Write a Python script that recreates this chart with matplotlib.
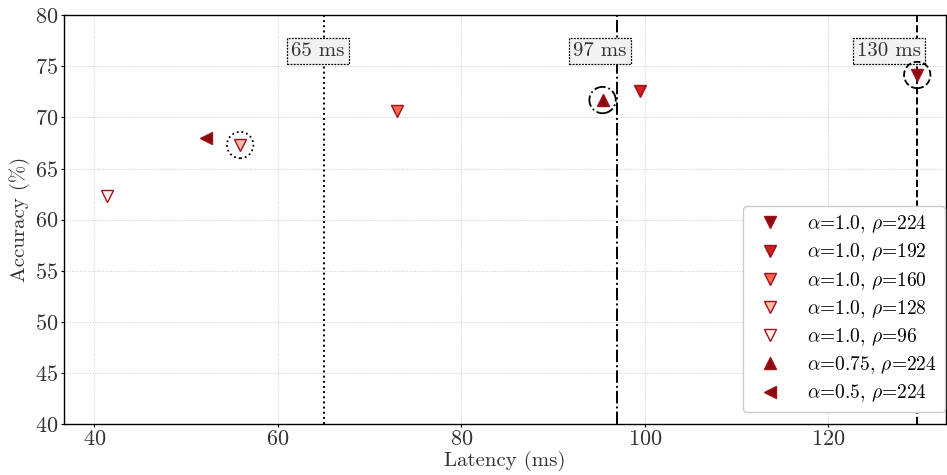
import matplotlib
matplotlib.use("Agg")
import matplotlib.pyplot as plt

plt.rcParams['font.family'] = 'serif'
plt.rcParams['font.serif'] = ['cmr10']
plt.rcParams['mathtext.fontset'] = 'cm'
plt.rcParams['axes.unicode_minus'] = False
plt.rcParams['axes.formatter.use_mathtext'] = True

labels = [r'$\alpha$=1.0, $\rho$=224', r'$\alpha$=1.0, $\rho$=192', r'$\alpha$=1.0, $\rho$=160',
          r'$\alpha$=1.0, $\rho$=128', r'$\alpha$=1.0, $\rho$=96', r'$\alpha$=0.75, $\rho$=224',
          r'$\alpha$=0.5, $\rho$=224']
latency = [129.7, 99.5, 73.0, 55.9, 41.4, 95.4, 52.2]
accuracy = [74.15, 72.6, 70.6, 67.3, 62.35, 71.7, 68.0]
markers = ['v', 'v', 'v', 'v', 'v', '^', '<']
colors = ['#8a0a10', '#cf1f20', '#f96a4c', '#fcbba4', '#fff2ee', '#8a0a10', '#8a0a10']

# budget lines: position, label, label x, style, highlighted point
budgets = [65, 97, 129.7]
budget_labels = ['65 ms', '97 ms', '130 ms']
budget_label_x = [64.4, 95.1, 126.6]
budget_styles = [':', '-.', '--']
budget_points = [3, 5, 0]

fig = plt.figure(figsize=(9.47, 4.75), dpi=100)
ax = fig.add_axes([0.0676, 0.107, 0.931, 0.861])

for i in range(len(latency)):
    ax.plot(latency[i], accuracy[i], linestyle='none', marker=markers[i], markersize=9,
            markerfacecolor=colors[i], markeredgecolor='#a0101a', markeredgewidth=1.0,
            label=labels[i], zorder=4)

for b, lab, lx, ls, p in zip(budgets, budget_labels, budget_label_x, budget_styles, budget_points):
    ax.axvline(b, color='black', linestyle=ls, linewidth=1.4, zorder=3)
    ax.text(lx, 76.5, lab, ha='center', va='center', fontsize=15, color='#333333', zorder=5,
            bbox=dict(boxstyle='square,pad=0.2', facecolor='#f2f2f2', edgecolor='black',
                      linestyle=(0, (1.5, 1)), linewidth=0.9))
    ax.scatter([latency[p]], [accuracy[p]], s=360, facecolors='none', edgecolors='black',
               linestyles=ls, linewidths=1.3, zorder=5)

ax.set_xlim(36.7, 132.8)
ax.set_ylim(40, 80)
ax.set_xticks([40, 60, 80, 100, 120])
ax.set_yticks(range(40, 81, 5))
ax.tick_params(labelsize=16, length=2, width=0.8, pad=2, labelcolor='#333333')
ax.grid(True, linestyle=':', color='#c8c8c8', linewidth=0.7)
ax.set_axisbelow(True)
for s in ax.spines.values():
    s.set_linewidth(1.0)
ax.set_xlabel('Latency (ms)', fontsize=15, labelpad=1, color='#333333')
ax.set_ylabel('Accuracy (%)', fontsize=15, labelpad=4, color='#333333')

ax.legend(loc='lower right', bbox_to_anchor=(1.0, 0.027), fontsize=14, frameon=True,
          framealpha=1, edgecolor='#cccccc', borderaxespad=0.05, handletextpad=0.9,
          handlelength=2.0, labelspacing=0.33)

fig.savefig('out.png', dpi=100)
